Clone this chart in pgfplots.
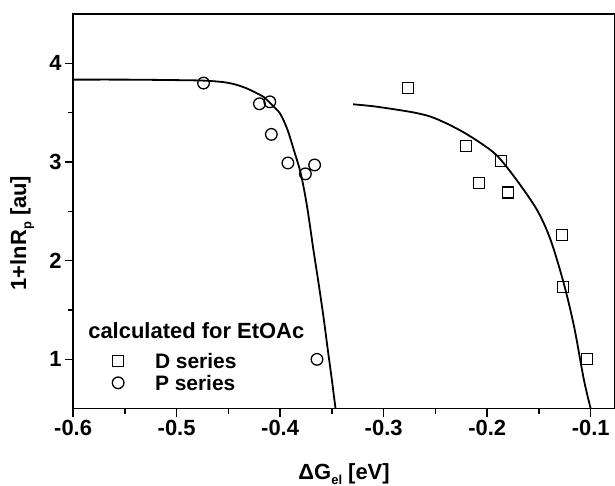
\documentclass[border=0pt]{standalone}
\usepackage{pgfplots}
\pgfplotsset{compat=1.18}
\usepackage{fontspec}
\setmainfont{Liberation Sans}
\begin{document}
\begin{tikzpicture}
\begin{axis}[
  scale only axis,
  width=541bp, height=394bp,
  xmin=-0.6, xmax=-0.0765,
  ymin=0.5, ymax=4.5,
  xtick={-0.6,-0.5,-0.4,-0.3,-0.2,-0.1},
  ytick={1,2,3,4},
  minor x tick num=1,
  minor y tick num=1,
  xtick pos=bottom, ytick pos=left,
  tick align=outside,
  major tick length=8bp,
  minor tick length=5bp,
  every tick/.style={line width=1.4bp, black},
  axis line style={line width=1.6bp},
  /pgf/number format/assume math mode=true,
  xticklabels={-0.6,-0.5,-0.4,-0.3,-0.2,-0.1},
  tick label style={font=\fontsize{22}{24}\selectfont\bfseries},
  xlabel={\bfseries ΔG\raisebox{-0.45ex}{\fontsize{13}{13}\selectfont el} [eV]},
  ylabel={\bfseries 1+lnR\raisebox{-0.45ex}{\fontsize{13}{13}\selectfont p} [au]},
  label style={font=\fontsize{22}{24}\selectfont\bfseries},
  xlabel style={at={(axis description cs:0.5,-0.165)}, anchor=center},
  ylabel style={at={(axis description cs:-0.094,0.445)}, anchor=center},
  legend style={at={(axis description cs:0.072,0.1396)}, anchor=north west,
    draw=none, fill=none, inner sep=0pt,
    font=\fontsize{21}{24}\selectfont\bfseries,
    nodes={inner sep=0pt, text height=15bp, text depth=7bp}, row sep=0bp},
  legend cell align=left,
  legend image code/.code={\draw[#1] plot coordinates {(6bp,4bp)};},
  clip=false,
]
% D series (squares)
\addplot[only marks, mark=square, mark size=5.5bp, mark options={line width=1.3bp, black}] coordinates {
(-0.2767,3.75) (-0.2205,3.16) (-0.1865,3.01) (-0.2078,2.79) (-0.1798,2.69)
(-0.128,2.26) (-0.1267,1.73) (-0.1035,1.00)
};
\addlegendentry{\hspace{31bp}D series}
% P series (circles)
\addplot[only marks, mark=o, mark size=5.8bp, mark options={line width=1.3bp, black}] coordinates {
(-0.474,3.80) (-0.420,3.59) (-0.410,3.61) (-0.4085,3.28) (-0.3925,2.99)
(-0.3756,2.88) (-0.3667,2.97) (-0.3644,1.00)
};
\addlegendentry{\hspace{31bp}P series}
% P fit curve
\addplot[black, line width=1.8bp, smooth, forget plot] coordinates {
(-0.6,3.835) (-0.55,3.835) (-0.5,3.83) (-0.474,3.825) (-0.455,3.81) (-0.443,3.785)
(-0.432,3.745) (-0.424,3.705) (-0.416,3.66) (-0.408,3.58) (-0.400,3.49)
(-0.393,3.33) (-0.387,3.13) (-0.380,2.88) (-0.374,2.55) (-0.368,2.12)
(-0.363,1.78) (-0.358,1.42) (-0.354,1.10) (-0.350,0.79) (-0.3465,0.5)
};
% D fit curve
\addplot[black, line width=1.8bp, smooth, forget plot] coordinates {
(-0.3295,3.585) (-0.31,3.565) (-0.287,3.53) (-0.27,3.50) (-0.2547,3.46) (-0.2390,3.39)
(-0.2226,3.30) (-0.206,3.19) (-0.190,3.06) (-0.171,2.81) (-0.1516,2.51)
(-0.1387,2.21) (-0.126,1.77) (-0.116,1.33) (-0.1065,0.79) (-0.1,0.5)
};
\node[anchor=west, inner sep=0pt, font=\fontsize{22}{24}\selectfont\bfseries]
  at (axis description cs:0.0277,0.198) {calculated for EtOAc};
\end{axis}
\pgfresetboundingbox
\path (current axis.south west) ++(-73bp,-77bp) coordinate (bl);
\path (current axis.north east) ++(0bp,14bp) coordinate (tr);
\path[use as bounding box] (bl) rectangle (tr);
\end{tikzpicture}
\end{document}
